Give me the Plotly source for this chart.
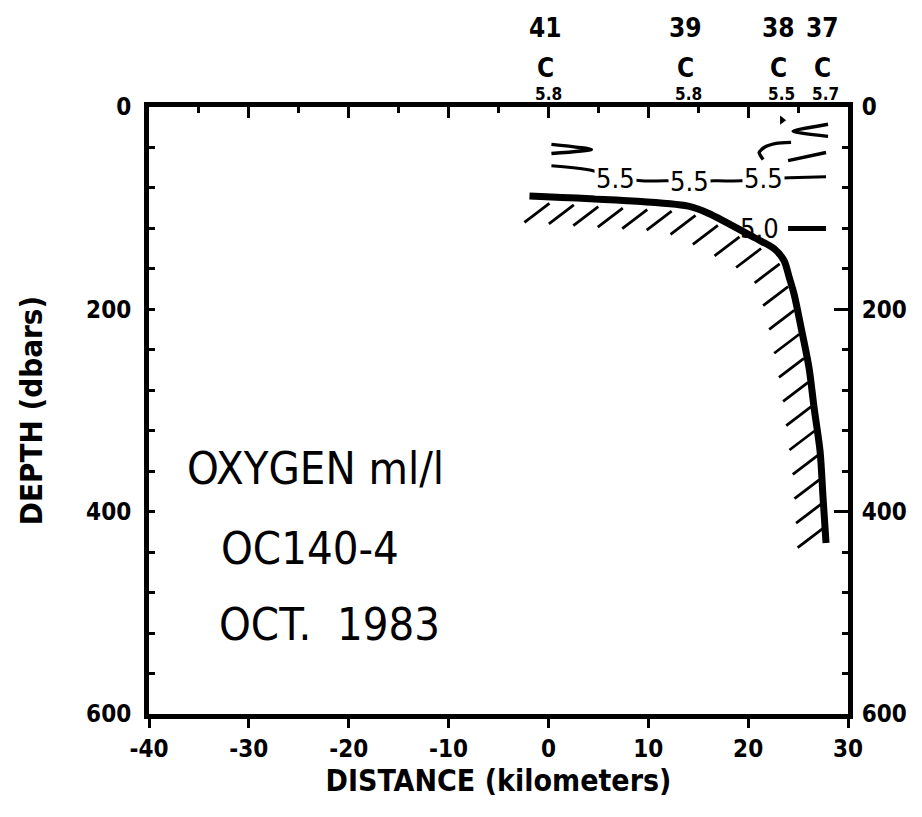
import numpy as np
import plotly.graph_objects as go

# ---------------- data ----------------
x_tick_vals = [-40, -30, -20, -10, 0, 10, 20, 30]
x_tick_text = ["-40", "-30", "-20", "-10", "0", "10", "20", "30"]
y_tick_vals = [0, 200, 400, 600]
y_tick_text = ["0", "200", "400", "600"]

station_ids = ["41", "39", "38", "37"]
station_km = [-0.3, 13.7, 23.0, 27.4]
station_type = ["C", "C", "C", "C"]
station_surface_o2 = ["5.8", "5.8", "5.5", "5.7"]

bottom_km = [-1.9, 14.0, 16.0, 20.6, 22.6, 23.6, 24.1, 24.6, 25.3, 26.1, 26.6, 27.2, 27.5, 27.8]
bottom_depth = [88, 98, 105, 129, 140, 152, 168, 185, 218, 258, 297, 340, 386, 431]

# 5.5 ml/l contour
c55_km = [0.3, 4.0, 6.7, 9.3, 11.9, 14.1, 16.6, 19.3, 21.5, 24.1, 27.8]
c55_depth = [58, 62, 69, 73, 73, 74, 73, 73, 71, 70, 69]
c55_label_km = [6.7, 14.1, 21.5]
c55_label_depth = [71, 74, 71]

# 5.0 ml/l contour
c50_km = [24.0, 27.8]
c50_depth = [120, 120]
c50_label_km = [21.1]
c50_label_depth = [120]

# upper contours (>5.5) near stations 41 and 37/38
c_up1_km = [0.3, 4.3, 0.3]
c_up1_depth = [37, 42, 46]
c_up2_km = [28.0, 24.5, 28.0]
c_up2_depth = [17, 24, 29]
c_up3_km = [24.3, 22.8, 21.6, 21.1, 21.5]
c_up3_depth = [35, 36, 40, 45, 52]
c_up4_km = [24.0, 27.8]
c_up4_depth = [53, 45]
c_mark_km = [23.4]
c_mark_depth = [13]

# ---------------- layout geometry ----------------
W, H = 922, 817
ML, MR, MT, MB = 149, 74, 107, 103
XR = [-40, 30]
YR = [600, 0]
pw = W - ML - MR
ph = H - MT - MB
kx = pw / (XR[1] - XR[0])   # px per km
ky = ph / (YR[0] - YR[1])   # px per dbar

FONT = "DejaVu Sans Condensed, DejaVu Sans, sans-serif"

# hatching along the bottom profile (computed from bottom data)
bx = np.array(bottom_km) * kx
by = np.array(bottom_depth) * ky
seg = np.hypot(np.diff(bx), np.diff(by))
cum = np.concatenate([[0], np.cumsum(seg)])
s = np.arange(22, cum[-1] - 6, 24.5)
hx = np.interp(s, cum, bx)
hy = np.interp(s, cum, by)
hx0, hy0 = hx - 2, hy + 6
hx1, hy1 = hx0 - 25, hy0 + 19
hatch_x, hatch_y = [], []
for a, b, c, d in zip(hx0, hy0, hx1, hy1):
    hatch_x += [a / kx, c / kx, None]
    hatch_y += [b / ky, d / ky, None]

fig = go.Figure()

blk = "black"
fig.add_trace(go.Scatter(x=hatch_x, y=hatch_y, mode="lines",
                         line=dict(color=blk, width=2.8), hoverinfo="skip"))
fig.add_trace(go.Scatter(x=bottom_km, y=bottom_depth, mode="lines",
                         line=dict(color=blk, width=7, shape="spline", smoothing=0.8),
                         hoverinfo="skip"))
fig.add_trace(go.Scatter(x=c55_km, y=c55_depth, mode="lines",
                         line=dict(color=blk, width=3, shape="spline"), hoverinfo="skip"))
fig.add_trace(go.Scatter(x=c50_km, y=c50_depth, mode="lines",
                         line=dict(color=blk, width=5), hoverinfo="skip"))
for kx_, dy_ in [(c_up1_km, c_up1_depth), (c_up2_km, c_up2_depth),
                 (c_up3_km, c_up3_depth), (c_up4_km, c_up4_depth)]:
    fig.add_trace(go.Scatter(x=kx_, y=dy_, mode="lines",
                             line=dict(color=blk, width=3.4, shape="spline", smoothing=0.6),
                             hoverinfo="skip"))
fig.add_trace(go.Scatter(x=c_mark_km, y=c_mark_depth, mode="markers",
                         marker=dict(symbol="triangle-right", size=8, color=blk),
                         hoverinfo="skip"))
# dummy trace for the secondary axes
fig.add_trace(go.Scatter(x=[None], y=[None], xaxis="x2", yaxis="y2", hoverinfo="skip"))

# contour labels
for xk, yd in zip(c55_label_km, c55_label_depth):
    fig.add_annotation(x=xk, y=yd, text="5.5", showarrow=False, bgcolor="white",
                       font=dict(family=FONT, size=27, color=blk), borderpad=1)
for xk, yd in zip(c50_label_km, c50_label_depth):
    fig.add_annotation(x=xk, y=yd, text="5.0", showarrow=False,
                       font=dict(family=FONT, size=27, color=blk))

# station labels above the frame
for sid, sk, st, so in zip(station_ids, station_km, station_type, station_surface_o2):
    fig.add_annotation(x=sk, y=1 + (MT - 28) / ph, xref="x", yref="paper", text=sid,
                       showarrow=False, yanchor="middle",
                       font=dict(family=FONT, size=26, color=blk, weight="bold"))
    fig.add_annotation(x=sk, y=1 + (MT - 68) / ph, xref="x", yref="paper", text=st,
                       showarrow=False, yanchor="middle",
                       font=dict(family=FONT, size=26, color=blk, weight="bold"))
    fig.add_annotation(x=sk + 0.3, y=1 + (MT - 94) / ph, xref="x", yref="paper", text=so,
                       showarrow=False, yanchor="middle",
                       font=dict(family=FONT, size=17, color=blk, weight="bold"))

# title block inside the plot
for txt, xk, yd in [("OXYGEN ml/l", -36.4, 357), ("OC140-4", -33.0, 436),
                    ("OCT.  1983", -33.2, 512)]:
    fig.add_annotation(x=xk, y=yd, text=txt, showarrow=False, xanchor="left",
                       yanchor="middle", font=dict(family=FONT, size=45, color=blk))

tickfont = dict(family=FONT, size=24, color=blk, weight="bold")
fig.update_layout(
    width=W, height=H,
    margin=dict(l=ML, r=MR, t=MT, b=MB),
    paper_bgcolor="white", plot_bgcolor="white",
    showlegend=False,
    xaxis=dict(range=XR, showgrid=False, zeroline=False,
               showline=True, linewidth=5, linecolor=blk,
               tickmode="array", tickvals=x_tick_vals, ticktext=x_tick_text,
               ticks="outside", ticklen=9, tickwidth=2.5, tickcolor=blk,
               tickfont=tickfont,
               title=dict(text="DISTANCE (kilometers)", standoff=6,
                          font=dict(family=FONT, size=30, color=blk, weight="bold"))),
    xaxis2=dict(range=XR, overlaying="x", side="top", showgrid=False, zeroline=False,
                showline=True, linewidth=5, linecolor=blk,
                tickmode="array", tickvals=x_tick_vals, showticklabels=False,
                ticks="inside", ticklen=11, tickwidth=2.5, tickcolor=blk,
                minor=dict(dtick=5, tick0=0, ticks="inside", ticklen=6,
                           tickwidth=2.5, tickcolor=blk, showgrid=False)),
    yaxis=dict(range=YR, showgrid=False, zeroline=False,
               showline=True, linewidth=5, linecolor=blk,
               tickmode="array", tickvals=y_tick_vals, ticktext=y_tick_text,
               ticks="inside", ticklen=6, tickwidth=2.5, tickcolor=blk,
               minor=dict(dtick=40, tick0=0, ticks="inside", ticklen=6,
                          tickwidth=2.5, tickcolor=blk, showgrid=False),
               tickfont=tickfont, ticklabelstandoff=8,
               title=dict(text="DEPTH (dbars)", standoff=36,
                          font=dict(family=FONT, size=31, color=blk, weight="bold"))),
    yaxis2=dict(range=YR, overlaying="y", side="right", showgrid=False, zeroline=False,
                showline=True, linewidth=5, linecolor=blk,
                tickmode="array", tickvals=y_tick_vals, ticktext=y_tick_text,
                ticks="inside", ticklen=14, tickwidth=2.5, tickcolor=blk,
                minor=dict(dtick=40, tick0=0, ticks="inside", ticklen=6,
                           tickwidth=2.5, tickcolor=blk, showgrid=False),
                tickfont=tickfont, ticklabelstandoff=4),
)

fig.write_html("out.html", config={"displayModeBar": False},
               post_script="document.body.style.margin='0';document.body.style.padding='0';")
